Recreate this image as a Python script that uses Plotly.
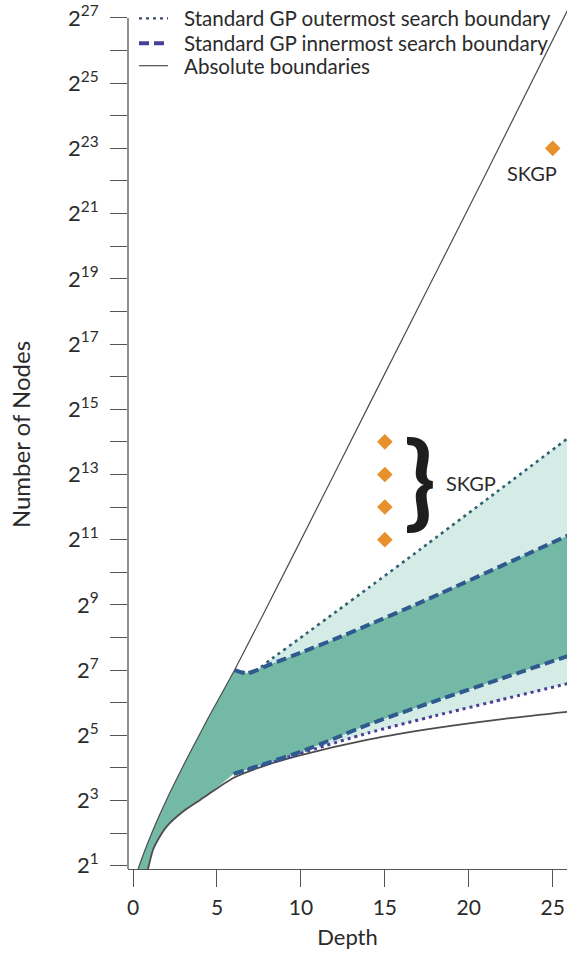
import math
import plotly.graph_objects as go

# ---------------- data ----------------
# Absolute boundaries
abs_upper_depth = [0, 0.3, 0.8, 1.4, 2.2, 3.2, 4.5, 6.05, 9.5, 14.3, 20.8, 26]
abs_upper_nodes = [1.37, 1.87, 3.03, 5.10, 9.51, 19.4, 46.9, 128, 1428, 42600, 4.19e6, 1.72e8]

abs_lower_depth = [0.7, 0.89, 1.19, 1.6, 2, 3, 4, 4.6, 6, 8, 10, 14, 18, 22, 26]
abs_lower_nodes = [1.41, 1.87, 2.81, 3.73, 4.6, 6.36, 8.1, 9.4, 13.0, 17.1, 21, 29.2, 37.3, 45.2, 53]

# Standard GP outermost search boundary (dotted)
outer_upper_depth = [6.05, 6.7, 7.3, 8.15, 10.13, 12.12, 14.1, 17.1, 21.5, 26]
outer_upper_nodes = [128, 122, 126, 158, 265, 446, 750, 1663, 5404, 18170]
outer_lower_depth = [6, 8, 10, 14, 18, 22, 26]
outer_lower_nodes = [14.1, 17.4, 21.9, 33.6, 48.5, 68.6, 97]

# Standard GP innermost search boundary (dashed)
inner_upper_depth = [6.05, 6.8, 8.15, 10.13, 12.12, 14.1, 17.1, 22.6, 26]
inner_upper_nodes = [128, 119, 144, 189, 251, 338, 537, 1305, 2272]
inner_lower_depth = [6, 8, 10, 12, 14, 18, 22, 26]
inner_lower_nodes = [14.1, 17.75, 22.6, 29.9, 40.2, 66.3, 107.6, 174.9]

# SKGP results
skgp_depth = [15, 15, 15, 15, 25]
skgp_nodes = [2048, 4096, 8192, 16384, 8388608]

# Axis ticks
x_ticks = [0, 5, 10, 15, 20, 25]
y_exponents = list(range(1, 28))

legend_names = ["Standard GP outermost search boundary",
                "Standard GP innermost search boundary",
                "Absolute boundaries"]

# ---------------- styling ----------------
FONT = "Lato"
TXT = "#2b2b2b"
LIGHT_FILL = "#d5ebe6"
TEAL_FILL = "#73b9a5"
DASH_COL = "#2f5a8e"
DOT_UP_COL = "#2e6171"
DOT_LO_COL = "#4a3f96"
ABS_COL = "#4d4d4d"
ORANGE = "#e8912c"

W, H = 567, 954
ML, MR, MT, MB = 128, 0, 0, 85
Y_LO, Y_HI = 0.9, 27.55          # exponent range of the y axis (base 2)
LOG2 = math.log10(2)

fig = go.Figure()

# light region: between the outermost boundaries
fig.add_trace(go.Scatter(
    x=outer_upper_depth + outer_lower_depth[::-1],
    y=outer_upper_nodes + outer_lower_nodes[::-1],
    fill="toself", fillcolor=LIGHT_FILL, mode="none",
    hoverinfo="skip", showlegend=False))

# teal region: absolute boundaries up to depth 6, then innermost boundaries
up_abs = [(d, n) for d, n in zip(abs_upper_depth, abs_upper_nodes) if d < inner_upper_depth[0]]
lo_abs = [(d, n) for d, n in zip(abs_lower_depth, abs_lower_nodes) if d < inner_lower_depth[0]]
teal_x = [d for d, _ in up_abs] + inner_upper_depth + inner_lower_depth[::-1] + [d for d, _ in lo_abs][::-1]
teal_y = [n for _, n in up_abs] + inner_upper_nodes + inner_lower_nodes[::-1] + [n for _, n in lo_abs][::-1]
fig.add_trace(go.Scatter(
    x=teal_x, y=teal_y, fill="toself", fillcolor=TEAL_FILL, mode="none",
    hoverinfo="skip", showlegend=False))

# absolute boundaries
fig.add_trace(go.Scatter(x=abs_upper_depth, y=abs_upper_nodes, mode="lines",
                         line=dict(color=ABS_COL, width=1.2, shape="spline", smoothing=0.5),
                         showlegend=False))
fig.add_trace(go.Scatter(x=abs_lower_depth, y=abs_lower_nodes, mode="lines",
                         line=dict(color=ABS_COL, width=1.8, shape="spline", smoothing=0.6),
                         showlegend=False))

# dotted outermost boundaries
fig.add_trace(go.Scatter(x=outer_lower_depth, y=outer_lower_nodes, mode="lines",
                         line=dict(color=DOT_LO_COL, width=3, dash="3px,4px",
                                   shape="spline", smoothing=0.5),
                         showlegend=False))
fig.add_trace(go.Scatter(x=outer_upper_depth, y=outer_upper_nodes, mode="lines",
                         line=dict(color=DOT_UP_COL, width=2.6, dash="3px,4px",
                                   shape="spline", smoothing=0.5),
                         showlegend=False))
# dashed innermost boundaries
fig.add_trace(go.Scatter(x=inner_upper_depth, y=inner_upper_nodes, mode="lines",
                         line=dict(color=DASH_COL, width=4, dash="10px,5px",
                                   shape="spline", smoothing=0.5),
                         showlegend=False))
fig.add_trace(go.Scatter(x=inner_lower_depth, y=inner_lower_nodes, mode="lines",
                         line=dict(color=DASH_COL, width=4, dash="10px,5px",
                                   shape="spline", smoothing=0.5),
                         showlegend=False))

# SKGP markers
fig.add_trace(go.Scatter(x=skgp_depth, y=skgp_nodes, mode="markers",
                         marker=dict(symbol="diamond", size=12, color=ORANGE),
                         showlegend=False))

plot_w = W - ML - MR
plot_h = H - MT - MB


def px_to_paper_x(px):
    return (px - ML) / plot_w


def px_to_paper_y(py):
    return 1 - (py - MT) / plot_h


shapes = []
annotations = []

# y axis line, from the bottom of the plot to the 2^27 tick
shapes.append(dict(type="line", xref="paper", yref="paper",
                   x0=0, x1=0, y0=0, y1=(27 - Y_LO) / (Y_HI - Y_LO),
                   line=dict(color="#555555", width=1.3)))

# manual legend
leg_rows = [18.3, 43.3, 65.7]
leg_styles = [dict(color="#3b4a6c", width=2.2, dash="3px,4px"),
              dict(color="#44409a", width=4, dash="10px,5px"),
              dict(color=ABS_COL, width=1.2)]
for row, name, st in zip(leg_rows, legend_names, leg_styles):
    yy = px_to_paper_y(row)
    shapes.append(dict(type="line", xref="paper", yref="paper",
                       x0=px_to_paper_x(139), x1=px_to_paper_x(168), y0=yy, y1=yy,
                       line=st))
    annotations.append(dict(xref="paper", yref="paper", x=px_to_paper_x(182), y=yy,
                            text=name, showarrow=False, xanchor="left", yanchor="middle",
                            font=dict(family=FONT, size=20.6, color=TXT)))

# SKGP label under the depth-25 marker
annotations.append(dict(x=skgp_depth[4] - 1.25, y=math.log10(skgp_nodes[4]) - 0.77 * LOG2,
                        text="SKGP", showarrow=False,
                        font=dict(family=FONT, size=20, color=TXT)))
# brace and label for the depth-15 markers
annotations.append(dict(x=17.1, y=12.95 * LOG2, text="}", showarrow=False,
                        font=dict(family=FONT, size=104, color="#1e1e1e", weight=700)))
annotations.append(dict(x=20.15, y=12.75 * LOG2, text="SKGP", showarrow=False,
                        font=dict(family=FONT, size=20, color=TXT)))

fig.update_layout(
    width=W, height=H,
    margin=dict(l=ML, r=MR, t=MT, b=MB),
    paper_bgcolor="white", plot_bgcolor="white",
    showlegend=False,
    font=dict(family=FONT, color=TXT),
    shapes=shapes, annotations=annotations,
    xaxis=dict(
        range=[-0.3, 25.85], tickvals=x_ticks, ticktext=[str(v) for v in x_ticks],
        ticks="outside", ticklen=17, tickwidth=1.3, tickcolor="#555555",
        showline=True, linecolor="#555555", linewidth=1.3,
        showgrid=False, zeroline=False, ticklabelstandoff=3,
        tickfont=dict(family=FONT, size=21, color=TXT),
        title=dict(text="Depth", font=dict(family=FONT, size=22, color=TXT), standoff=11),
    ),
    yaxis=dict(
        type="log", range=[Y_LO * LOG2, Y_HI * LOG2],
        tickvals=[2 ** k for k in y_exponents],
        ticktext=[f"2<sup>{k}</sup>" if k % 2 == 1 else "" for k in y_exponents],
        ticks="outside", ticklen=17, tickwidth=1.3, tickcolor="#555555",
        showline=False, showgrid=False, zeroline=False, ticklabelstandoff=7,
        tickfont=dict(family=FONT, size=22, color=TXT),
        title=dict(text="Number of Nodes", font=dict(family=FONT, size=24, color=TXT), standoff=30),
    ),
)

fig.write_html("out.html")
